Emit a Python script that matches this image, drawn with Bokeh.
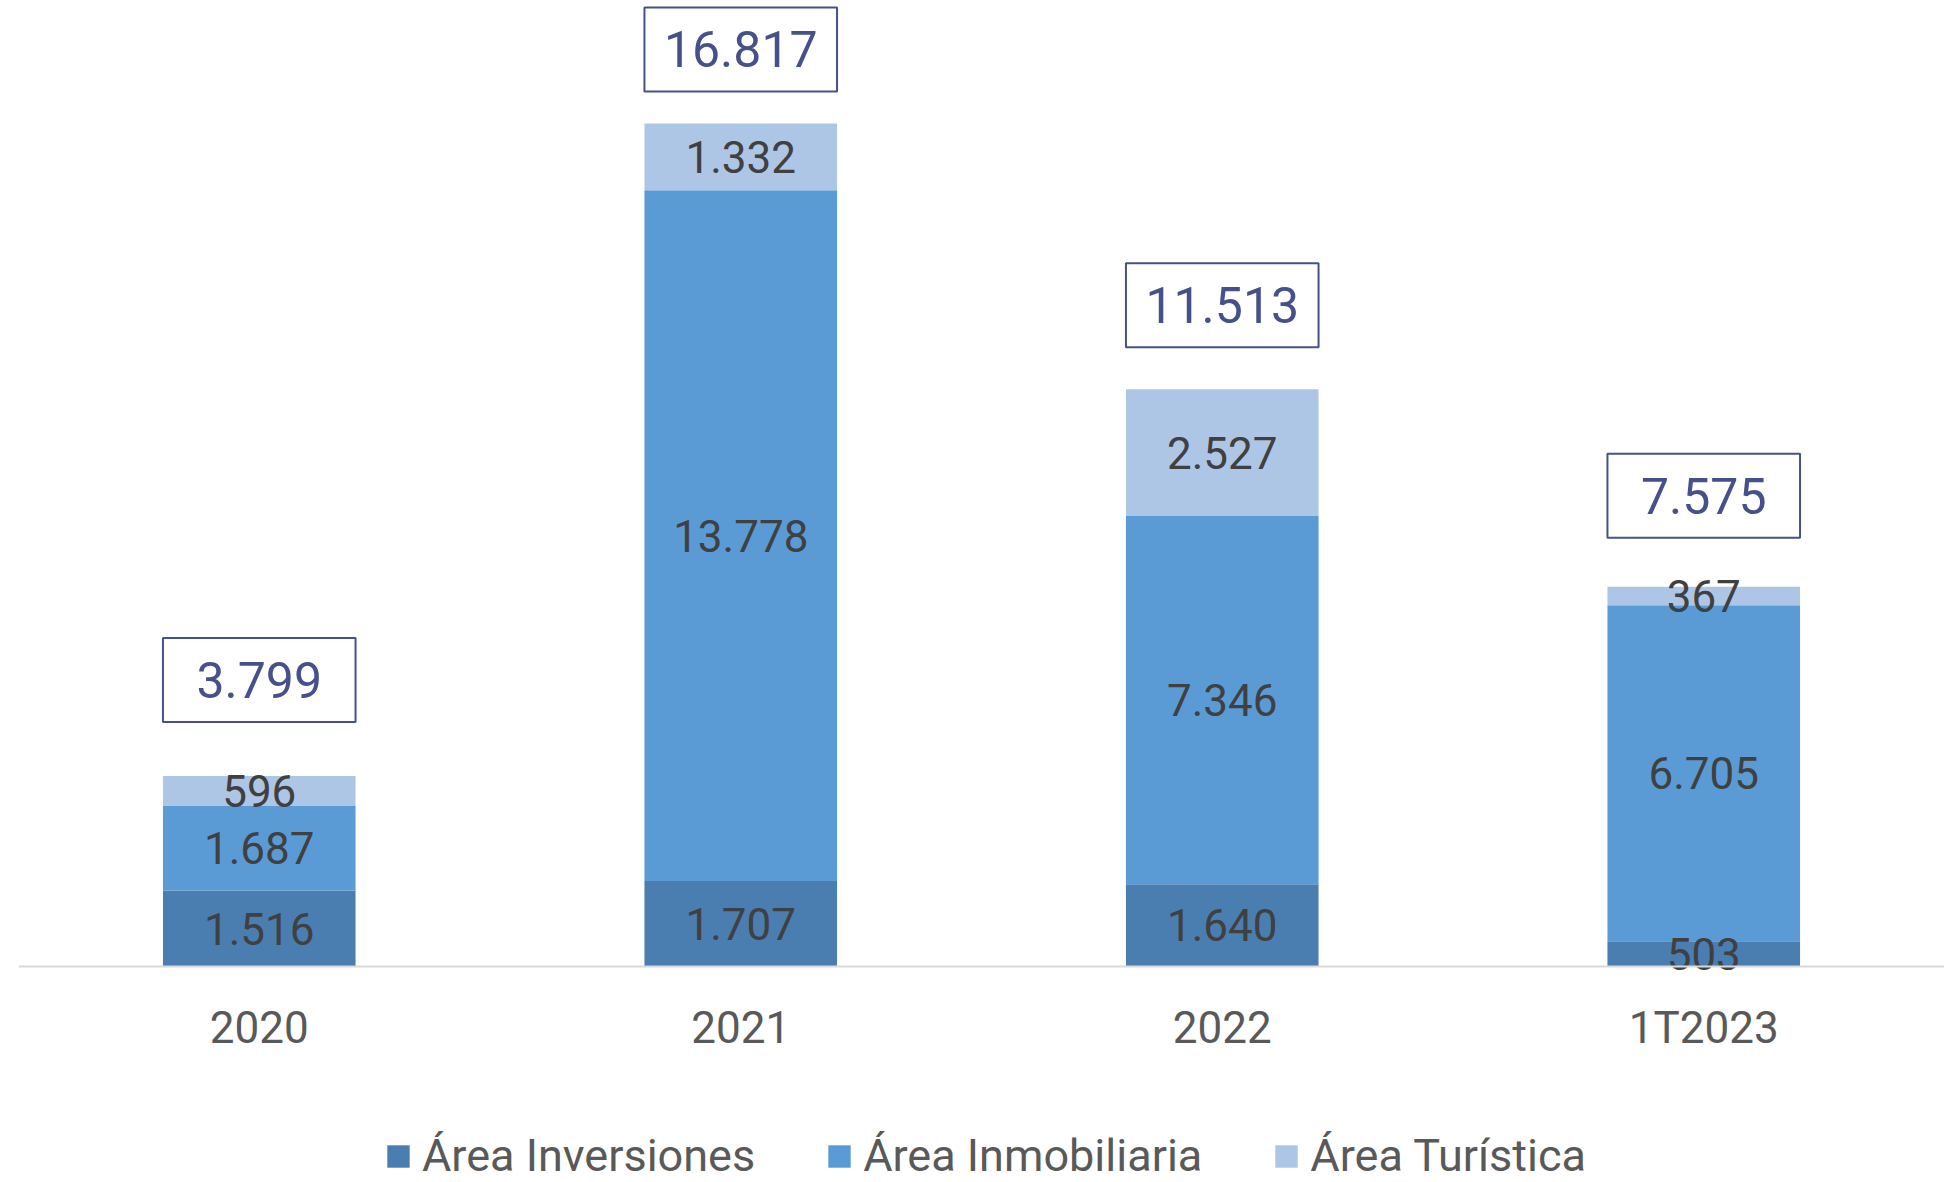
from bokeh.plotting import figure
from bokeh.models import FactorRange, Range1d, ColumnDataSource, Legend, LegendItem
from bokeh.core.properties import value
from bokeh.embed import file_html
from bokeh.resources import INLINE

# ---- data ----
categories = ["2020", "2021", "2022", "1T2023"]
inversiones = [1516, 1707, 1640, 503]
inmobiliaria = [1687, 13778, 7346, 6705]
turistica = [596, 1332, 2527, 367]
series_names = ["Área Inversiones", "Área Inmobiliaria", "Área Turística"]

# ---- styling / layout ----
colors = ["#4A7EB0", "#5B9BD5", "#ADC6E5"]
box_lift_px = [96, 74, 84, 91]
PX_PER_UNIT = 0.05013          # vertical scale
TOP_PX, BOTTOM_PX = 966, 216   # frame space above / below the baseline
Y_MAX = TOP_PX / PX_PER_UNIT
Y_MIN = -BOTTOM_PX / PX_PER_UNIT
FONT = "Roboto"


def fmt(v):
    return f"{v:,}".replace(",", ".")


totals = [a + b + c for a, b, c in zip(inversiones, inmobiliaria, turistica)]

source = ColumnDataSource(dict(cat=categories, inv=inversiones, inm=inmobiliaria, tur=turistica))

p = figure(
    x_range=FactorRange(factors=categories, range_padding=0),
    y_range=Range1d(Y_MIN, Y_MAX),
    width=1944, height=TOP_PX + BOTTOM_PX,
    min_border_left=18, min_border_right=0, min_border_top=0, min_border_bottom=0,
    y_axis_location=None,
    output_backend="svg", toolbar_location=None,
)

renderers = p.vbar_stack(["inv", "inm", "tur"], x="cat", width=0.4, fill_color=colors,
                         line_color=None, source=source)

# segment labels
lab_x, lab_y, lab_t = [], [], []
for i, c in enumerate(categories):
    base = 0
    for s in (inversiones, inmobiliaria, turistica):
        v = s[i]
        lab_x.append(c)
        lab_y.append(base + v / 2)
        lab_t.append(fmt(v))
        base += v
p.text(x=lab_x, y=lab_y, text=lab_t, text_align="center", text_baseline="middle",
       text_font=value(FONT), text_font_size="44px", text_color="#404040")

# total boxes
box_y = [t + lift / PX_PER_UNIT for t, lift in zip(totals, box_lift_px)]
p.rect(x=categories, y=box_y, width=0.4, height=84, height_units="screen",
       fill_color="white", line_color="#46508A", line_width=2)
p.text(x=categories, y=box_y, text=[fmt(t) for t in totals], text_align="center",
       text_baseline="middle", text_font=value(FONT), text_font_size="50px",
       text_color="#46508A")

# axes / grid
p.xgrid.visible = False
p.ygrid.visible = False
p.outline_line_color = None
p.xaxis.fixed_location = 0
p.xaxis.axis_line_color = "#D9D9D9"
p.xaxis.axis_line_width = 2
p.xaxis.major_tick_line_color = None
p.xaxis.minor_tick_line_color = None
p.xaxis.major_tick_out = 0
p.xaxis.major_label_text_font = FONT
p.xaxis.major_label_text_font_size = "44px"
p.xaxis.major_label_text_color = "#595959"
p.xaxis.major_label_standoff = 35

items = [LegendItem(label=n, renderers=[r]) for n, r in zip(series_names, renderers)]
legend = Legend(items=items, location=(366, 0), orientation="horizontal",
                label_text_font=FONT, label_text_font_size="45px", label_text_color="#595959",
                glyph_width=28, glyph_height=28, label_standoff=10, spacing=70,
                padding=0, margin=0, border_line_color=None, background_fill_alpha=0)
p.add_layout(legend)

open("out.html", "w").write(file_html(p, INLINE))
